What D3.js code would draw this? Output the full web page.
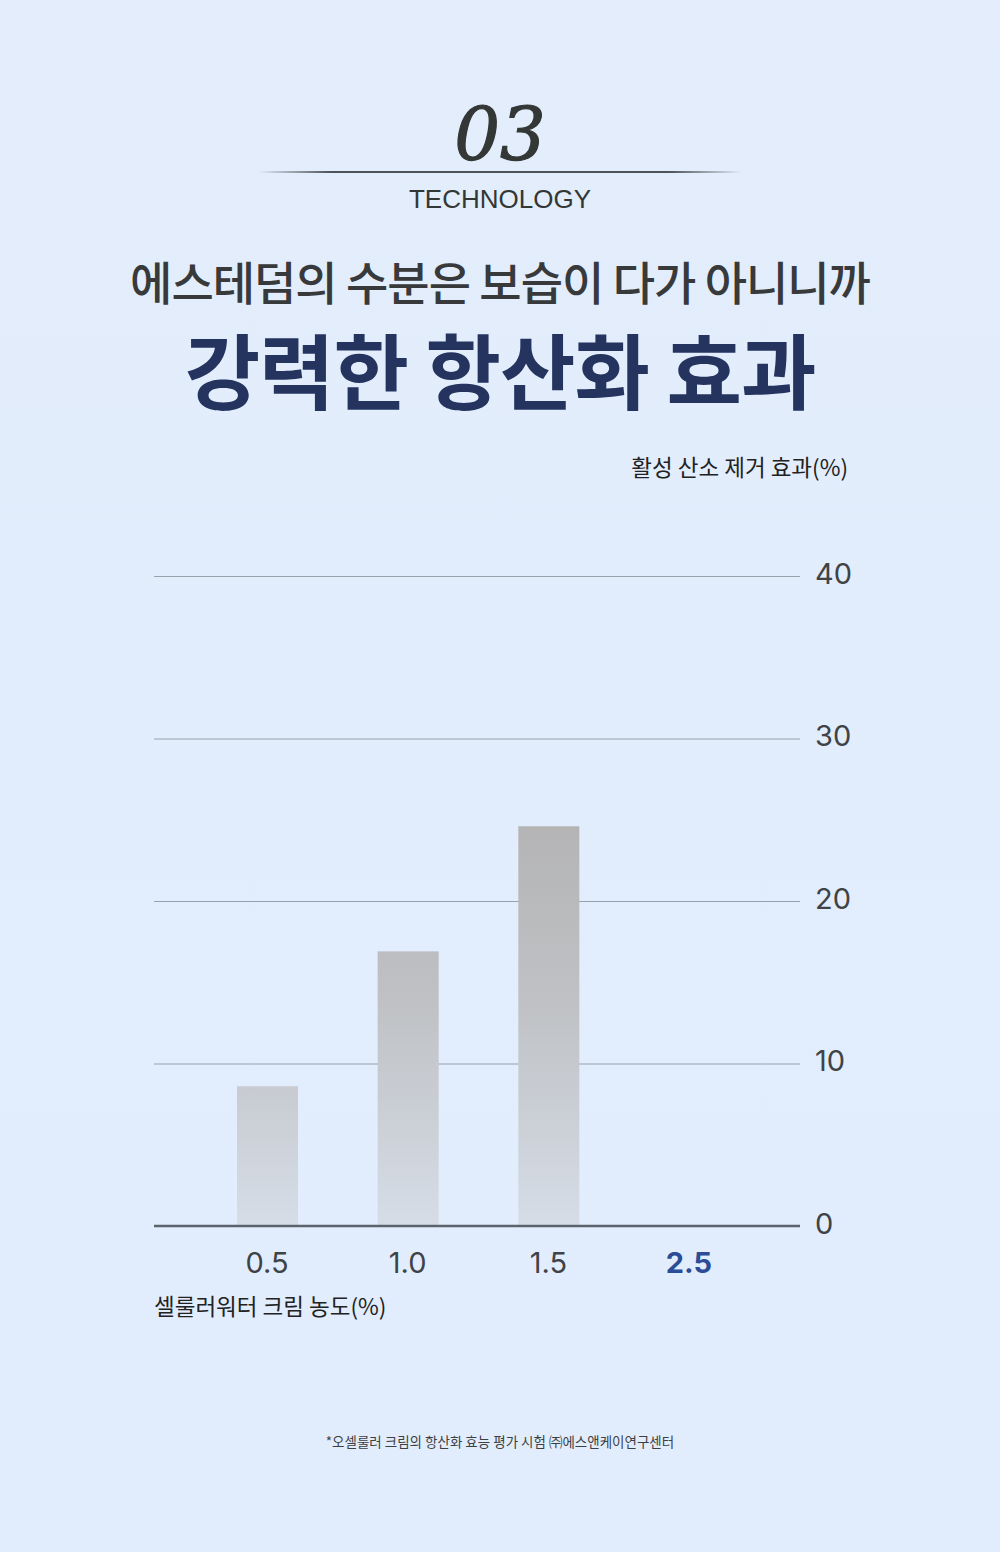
<!DOCTYPE html>
<html>
<head>
<meta charset="utf-8">
<script src="https://cdn.jsdelivr.net/npm/d3@7"></script>
<style>
  html, body { margin: 0; padding: 0; background: #e2edfc; }
  svg { display: block; }
</style>
</head>
<body>
<div id="chart"></div>
<script>
(function chart() {

  var W = 1000, H = 1552;

  // data
  var categories = ["0.5", "1.0", "1.5", "2.5"];
  var values = [8.6, 16.9, 24.6, null];   // 2.5: no bar drawn in the reference
  var yTicks = [0, 10, 20, 30, 40];
  var highlight = "2.5";

  var kr = "'Noto Sans CJK KR', 'Noto Sans', sans-serif";

  var svg = d3.select("#chart").append("svg")
    .attr("width", W)
    .attr("height", H);

  var defs = svg.append("defs");

  var bg = defs.append("linearGradient").attr("id", "bg")
    .attr("x1", 0).attr("y1", 0).attr("x2", 0).attr("y2", 1);
  bg.append("stop").attr("offset", "0%").attr("stop-color", "#e3edfc");
  bg.append("stop").attr("offset", "100%").attr("stop-color", "#e1edfd");

  var barGrad = defs.append("linearGradient").attr("id", "barGrad")
    .attr("gradientUnits", "userSpaceOnUse")
    .attr("x1", 0).attr("y1", 820).attr("x2", 0).attr("y2", 1226);
  barGrad.append("stop").attr("offset", "0%").attr("stop-color", "#b4b4b5");
  barGrad.append("stop").attr("offset", "45%").attr("stop-color", "#bfc1c4");
  barGrad.append("stop").attr("offset", "100%").attr("stop-color", "#d6dde7");

  var lineGrad = defs.append("linearGradient").attr("id", "lineGrad")
    .attr("x1", 0).attr("y1", 0).attr("x2", 1).attr("y2", 0);
  lineGrad.append("stop").attr("offset", "0%").attr("stop-color", "#3d4346").attr("stop-opacity", 0);
  lineGrad.append("stop").attr("offset", "15%").attr("stop-color", "#3d4346").attr("stop-opacity", 0.9);
  lineGrad.append("stop").attr("offset", "85%").attr("stop-color", "#3d4346").attr("stop-opacity", 0.9);
  lineGrad.append("stop").attr("offset", "100%").attr("stop-color", "#3d4346").attr("stop-opacity", 0);

  svg.append("rect").attr("width", W).attr("height", H).attr("fill", "url(#bg)");

  // header
  svg.append("text")
    .attr("x", 500).attr("y", 160)
    .attr("text-anchor", "middle")
    .style("font-family", "'DejaVu Serif', 'Liberation Serif', serif")
    .style("font-style", "italic")
    .style("font-size", "72px")
    .style("stroke", "#333735")
    .style("stroke-width", 1.2)
    .style("fill", "#333735")
    .text("03");

  svg.append("rect")
    .attr("x", 258).attr("y", 171)
    .attr("width", 484).attr("height", 2)
    .attr("fill", "url(#lineGrad)");

  svg.append("text")
    .attr("x", 500).attr("y", 208)
    .attr("text-anchor", "middle")
    .style("font-family", "'Liberation Sans', Arial, sans-serif")
    .style("font-size", "26px")
    .style("fill", "#333735")
    .text("TECHNOLOGY");

  svg.append("text")
    .attr("x", 500).attr("y", 300)
    .attr("text-anchor", "middle")
    .style("font-family", kr)
    .style("font-weight", 500)
    .style("font-size", "46px")
    .style("letter-spacing", "-1px")
    .style("fill", "#38393b")
    .text("에스테덤의 수분은 보습이 다가 아니니까");

  svg.append("text")
    .attr("x", 500).attr("y", 403)
    .attr("text-anchor", "middle")
    .style("font-family", kr)
    .style("font-weight", 700)
    .style("font-size", "82px")
    .style("letter-spacing", "-1px")
    .style("fill", "#25345f")
    .text("강력한 항산화 효과");

  // chart
  var left = 154, right = 800;
  var y = d3.scaleLinear().domain([0, 40]).range([1226, 576]);
  var x = d3.scalePoint().domain(categories).range([266.5, 688.5]);
  var barW = 61;

  svg.append("text")
    .attr("x", 848).attr("y", 476)
    .attr("text-anchor", "end")
    .style("font-family", kr)
    .style("font-size", "22.5px")
    .style("fill", "#222")
    .text("활성 산소 제거 효과(%)");

  var grid = svg.append("g");
  grid.selectAll("line")
    .data(yTicks.filter(function(d) { return d > 0; }))
    .enter().append("line")
    .attr("x1", left).attr("x2", right)
    .attr("y1", function(d) { return y(d) + 0.5; })
    .attr("y2", function(d) { return y(d) + 0.5; })
    .attr("stroke", "#98a2ab")
    .attr("stroke-width", 1.2);

  svg.append("g").selectAll("rect")
    .data(categories.map(function(c, i) { return { c: c, v: values[i] }; })
      .filter(function(d) { return d.v != null; }))
    .enter().append("rect")
    .attr("x", function(d) { return x(d.c) + 1 - barW / 2; })
    .attr("y", function(d) { return y(d.v); })
    .attr("width", barW)
    .attr("height", function(d) { return y(0) - y(d.v); })
    .attr("fill", "url(#barGrad)");

  // baseline
  svg.append("line")
    .attr("x1", left).attr("x2", right)
    .attr("y1", y(0)).attr("y2", y(0))
    .attr("stroke", "#5b646c")
    .attr("stroke-width", 2.5);

  var yAxis = d3.axisRight(y)
    .tickValues(yTicks)
    .tickSize(0)
    .tickPadding(0);

  var ya = svg.append("g")
    .attr("transform", "translate(815,-3)")
    .call(yAxis);
  ya.select(".domain").remove();
  ya.selectAll("text")
    .attr("dy", "0.35em")
    .style("font-family", "Inter, 'Noto Sans', sans-serif")
    .style("font-size", "29px")
    .style("fill", "#3f4346");

  var xAxis = d3.axisBottom(x).tickSize(0).tickPadding(0);
  var xa = svg.append("g")
    .attr("transform", "translate(0,1252)")
    .call(xAxis);
  xa.select(".domain").remove();
  xa.selectAll("text")
    .attr("dy", "0.71em")
    .style("font-family", "Inter, 'Noto Sans', sans-serif")
    .style("font-size", "29px")
    .style("font-weight", function(d) { return d === highlight ? 700 : 400; })
    .style("fill", function(d) { return d === highlight ? "#2b4c97" : "#3f4346"; });

  svg.append("text")
    .attr("x", left).attr("y", 1315)
    .style("font-family", kr)
    .style("font-size", "22.5px")
    .style("fill", "#222")
    .text("셀룰러워터 크림 농도(%)");

  svg.append("text")
    .attr("x", 500).attr("y", 1447)
    .attr("text-anchor", "middle")
    .style("font-family", kr)
    .style("font-size", "13.5px")
    .style("fill", "#3d3f42")
    .text("*오셀룰러 크림의 항산화 효능 평가 시험 ㈜에스앤케이연구센터");

})();
</script>
</body>
</html>
